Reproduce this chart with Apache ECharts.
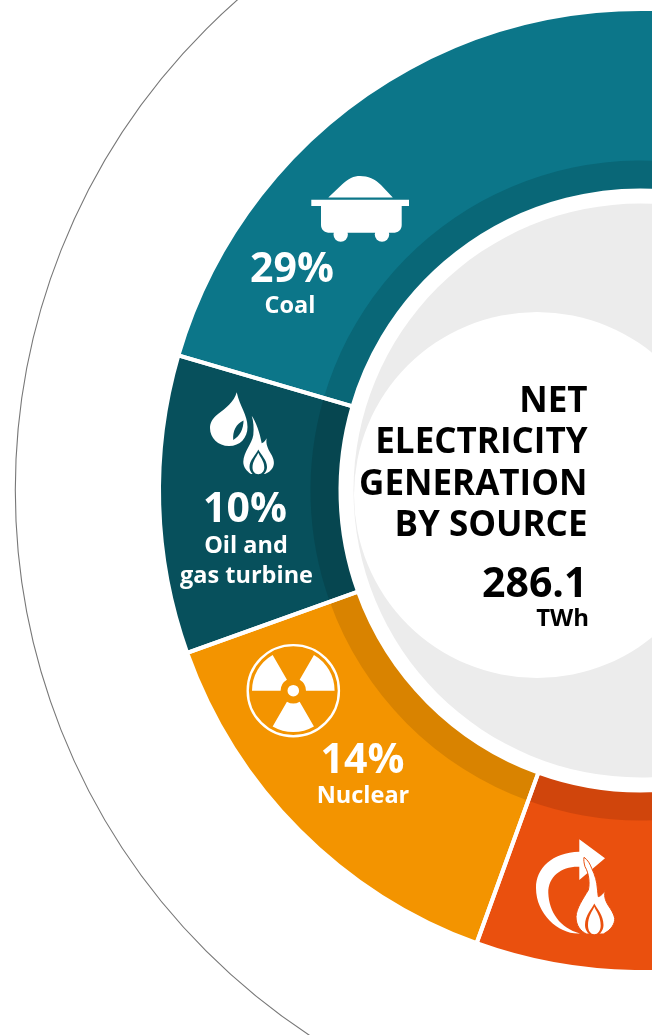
<!DOCTYPE html>
<html>
<head>
<meta charset="utf-8">
<style>html,body{margin:0;padding:0;background:#fff}#chart{width:652px;height:1035px}</style>
<script src="https://cdn.jsdelivr.net/npm/echarts@6/dist/echarts.min.js"></script>
</head>
<body>
<div id="chart"></div>
<script>
// Net electricity generation shares, clockwise from the coal slice
const categories = ['Coal', 'Other sources', 'Nuclear', 'Oil and gas turbine'];
const shares = [29, 47, 14, 10];
const fillColors = ['#0c7689', '#ea500e', '#f39400', '#07505c'];
const bandColors = ['#096777', '#d0450c', '#d98300', '#064650'];
const titleLines = ['NET', 'ELECTRICITY', 'GENERATION', 'BY SOURCE'];
const totalGeneration = '286.1';
const totalUnit = 'TWh';

const FONT = '"Open Sans", "Noto Sans", sans-serif';
const CX = 640.5, CY = 490.5;
const START = 163.7;

const pieData = (colors) => categories.map((name, i) => ({
  name, value: shares[i], itemStyle: colors ? { color: colors[i] } : undefined
}));
const ring = (radius, colors, itemStyle) => ({
  type: 'pie', center: [CX, CY], radius, startAngle: START, clockwise: true,
  silent: true, animation: false, label: { show: false }, labelLine: { show: false },
  itemStyle, data: pieData(colors)
});

// Text placed by its alphabetic baseline
const text = (x, base, str, size, weight, fill, align) => ({
  type: 'text', x, y: base - size * 0.28, z: 20, silent: true,
  style: { text: str, font: `${weight} ${size}px ${FONT}`, fill,
           align: align || 'center', verticalAlign: 'middle' }
});
const pct = (i) => shares[i] + '%';

// Each icon outline is registered as its own shape class for the graphic component
let shapeCount = 0;
const path = (d, fill, extra) => {
  const type = 'iconShape' + (shapeCount++);
  echarts.graphic.registerShape(type, echarts.graphic.extendPath(d));
  return { type, z: 10, silent: true, style: Object.assign({ fill }, extra || {}) };
};
const circle = (cx, cy, r, style, z) => ({
  type: 'circle', z: z === undefined ? 10 : z, silent: true, shape: { cx, cy, r }, style
});
const blade = (a0, a1) => ({
  type: 'sector', z: 10, silent: true,
  shape: { cx: 293.3, cy: 690.7, r: 41.3, r0: 12.7,
           startAngle: a0 * Math.PI / 180, endAngle: a1 * Math.PI / 180 },
  style: { fill: '#fff' }
});

const elements = [
  // Hairline ring, grey backing disc and offset white disc
  circle(667.3, 490.1, 652, { fill: 'none', stroke: '#777', lineWidth: 1.1 }, 0),
  circle(CX, CY, 287, { fill: '#ececec' }, 0),
  circle(537, 495, 183, { fill: '#fff' }, 1),

  // Coal cart
  path('M311.3,199.7H409V206H401.7V225C401.7,230 398,232.8 393,232.8H330C325,232.8 321,230 321,225V206H311.3Z', '#fff'),
  circle(340.7, 234.6, 7.2, { fill: '#fff' }),
  circle(382, 234.6, 7.2, { fill: '#fff' }),
  path('M328.3,197.6L342,184.5C348,178.5 354,176 360,176C368,176 375,179 381,185L392.8,197.6Z', '#fff'),

  // Oil drop and gas flame
  path('M236.7,392.3C234,402 226,408 218,414C212,419 210,423 210,428C210,438 218,446 229,446C240,446 247.5,438 247.5,427C247.5,415 240,407 236.7,392.3Z', '#fff'),
  path('M233.2,440C232.5,431 236,424 243.5,420.5C243.5,429 240,436 233.2,440Z', '#07505c'),
  path('M251.7,415.7C256,422 260,433 261.7,443.3C264,442.5 265.5,440.5 266.7,438.3C265.5,444 268,449 271,454C274,459 275,464 272.5,468C271,470.5 268.5,472.5 265,474H251C246.5,471 243.3,467 243.3,461.7C243.5,452 252,444 253.3,435C254,428 253.5,421 251.7,415.7Z', '#fff'),
  path('M258.3,449.5C261,455 267,460 267,467C267,472 263,476 258.3,476C253.5,476 249.5,472 249.5,467C249.5,460 256,455 258.3,449.5Z', '#07505c'),
  path('M258.3,452.7C260,457 264.3,461 264.3,467.5C264.3,471.5 261.5,474.2 258.3,474.2C255,474.2 252.5,471.5 252.5,467.5C252.5,461 256.5,457 258.3,452.7Z', '#fff'),

  // Radiation trefoil
  circle(293.3, 690.7, 45.6, { fill: 'none', stroke: '#fff', lineWidth: 2.4 }),
  blade(180, 240), blade(300, 360), blade(60, 120),
  circle(293.3, 690.7, 5.8, { fill: '#fff' }),

  // Recycled-heat arrow and flame
  path('M580,933.5C560,935 536,915 536,888C536,868 552,852.5 579.3,851.7V839.3L605,858.3L579.3,880V866.7C562,866 548,876 548.3,893C549,912 560,928 580,933.5Z', '#fff'),
  path('M584,857.3C588,860 590,864 591.7,868.3C595,875 597,882 597.3,888C597.8,892 598,895 598.3,896.7C601,896 604,893 605.7,889.3C603.5,895 605,900 608,905C611,909.5 614,914 614.7,918.3C615,924 611,930 603.3,934H586.7C581,931.5 576,926 576,916.7C576.5,908 583,899 588.3,890C590,884 589,873 585,866.7C584,863 583.5,860 584,857.3Z', '#fff', { stroke: '#ea500e', lineWidth: 1 }),
  path('M594.3,903.5C597,909 603.5,915 603.5,925C603.5,931 599,936 594.3,936C589.5,936 585,931 585,925C585,915 592,909 594.3,903.5Z', '#ea500e'),
  path('M594.3,906.7C596,911 600.7,916 600.7,925.5C600.7,930.5 598,934.3 594.3,934.3C590.5,934.3 588,930.5 588,925.5C588,916 592.5,911 594.3,906.7Z', '#fff'),

  // Slice labels
  text(292, 282, pct(0), 41, 700, '#fff'),
  text(290, 313, categories[0], 23.5, 700, '#fff'),
  text(245, 521.7, pct(3), 41, 700, '#fff'),
  text(246, 552.7, 'Oil and', 23.5, 700, '#fff'),
  text(246.5, 583, 'gas turbine', 23.5, 700, '#fff'),
  text(362.5, 772.7, pct(2), 41, 700, '#fff'),
  text(363, 803, categories[2], 23.5, 700, '#fff'),

  // Centre title and total
  ...titleLines.map((line, i) => text(587.5, 411.7 + i * 41.35, line, 35, 700, '#000', 'right')),
  text(587.5, 596.7, totalGeneration, 41, 700, '#000', 'right'),
  text(589, 626, totalUnit, 24, 700, '#000', 'right')
];

const chart = echarts.init(document.getElementById('chart'), null, { renderer: 'canvas' });
chart.setOption({
  backgroundColor: '#fff',
  animation: false,
  tooltip: { show: false },
  series: [
    ring([300, 481.5], fillColors),
    ring([300, 330], bandColors),
    // Slice separators drawn over both rings
    ring([300, 481.5], null, { color: 'transparent', borderColor: '#fff', borderWidth: 4 })
  ],
  graphic: { elements }
});
</script>
</body>
</html>
